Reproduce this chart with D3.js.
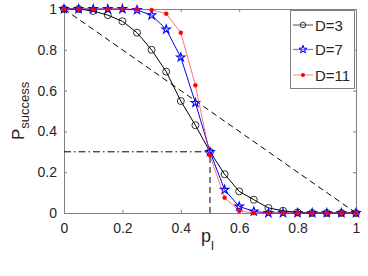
<!DOCTYPE html>
<html><head><meta charset="utf-8">
<script src="https://cdn.jsdelivr.net/npm/d3@7"></script>
<style>body{margin:0;background:#fff}svg{display:block}text{font-family:"Liberation Sans",Arial,sans-serif;fill:#262626}</style>
</head><body><svg id="c" width="368" height="276"></svg>
<script>
const pl = [0,0.05,0.1,0.15,0.2,0.25,0.3,0.35,0.4,0.45,0.5,0.55,0.6,0.65,0.7,0.75,0.8,0.85,0.9,0.95,1];
const d3vals = [1,1,0.99,0.97,0.94,0.884,0.80,0.693,0.549,0.43,0.30,0.19,0.106,0.065,0.025,0.011,0.003,0,0,0,0];
const d7vals = [1,1,1,1,1,0.995,0.97,0.90,0.763,0.54,0.30,0.114,0.032,0.008,0,0,0,0,0,0,0];
const d11vals = [1,1,1,1,1,1,0.995,0.977,0.884,0.626,0.282,0.075,0.01,0,0,0,0,0,0,0,0];
const seriesNames = ["D=3","D=7","D=11"];
const xTicks = [0,0.2,0.4,0.6,0.8,1];
const yTicks = [0,0.2,0.4,0.6,0.8,1];
const refX = [0,1], refY = [1,0];
const thresholdP = 0.5, thresholdS = 0.3;

const svg = d3.select("#c");
const L=64,R=356,T=9,B=213;
const x = d3.scaleLinear().domain([0,1]).range([L,R]);
const y = d3.scaleLinear().domain([0,1]).range([B,T]);
const axisCol="#808080";

const gx = svg.append("g").attr("transform",`translate(0,${B})`).call(d3.axisBottom(x).tickValues(xTicks).tickSizeInner(-3).tickSizeOuter(0).tickPadding(10).tickFormat(d3.format("")));
const gy = svg.append("g").attr("transform",`translate(${L},0)`).call(d3.axisLeft(y).tickValues(yTicks).tickSizeInner(-3).tickSizeOuter(0).tickPadding(7).tickFormat(d3.format("")));
const gxt = svg.append("g").attr("transform",`translate(0,${T})`).call(d3.axisTop(x).tickValues(xTicks).tickSizeInner(-3).tickSizeOuter(0).tickFormat(""));
const gyr = svg.append("g").attr("transform",`translate(${R},0)`).call(d3.axisRight(y).tickValues(yTicks).tickSizeInner(-3).tickSizeOuter(0).tickFormat(""));
[gx,gy,gxt,gyr].forEach(g=>{g.selectAll("path,line").attr("stroke",axisCol).attr("stroke-width",1);});
gx.selectAll("text").attr("font-size",14).style("fill","#262626");
gy.selectAll("text").attr("font-size",14).style("fill","#262626");

svg.append("path").attr("d",d3.line().x((d,i)=>x(refX[i])).y((d,i)=>y(refY[i]))(refX))
  .attr("stroke","#000").attr("stroke-width",1).attr("stroke-dasharray","6,4").attr("fill","none");
svg.append("line").attr("x1",x(0)).attr("x2",x(thresholdP)).attr("y1",y(thresholdS)).attr("y2",y(thresholdS))
  .attr("stroke","#000").attr("stroke-dasharray","7,3,1.5,3");
svg.append("line").attr("x1",x(thresholdP)).attr("x2",x(thresholdP)).attr("y1",y(0)).attr("y2",y(thresholdS))
  .attr("stroke","#000").attr("stroke-dasharray","6,4");

const line = d3.line().x((d,i)=>x(pl[i])).y(d=>y(d));
const star = d3.symbol().type(d3.symbolStar).size(22);

svg.append("path").attr("d",line(d3vals)).attr("fill","none").attr("stroke","#000").attr("stroke-width",1);
svg.selectAll(".c3").data(d3vals).join("circle").attr("cx",(d,i)=>x(pl[i])).attr("cy",d=>y(d)).attr("r",3.5)
  .attr("fill","none").attr("stroke","#000").attr("stroke-width",0.8);
svg.append("path").attr("d",line(d7vals)).attr("fill","none").attr("stroke","#0000ff").attr("stroke-width",1);
svg.selectAll(".s7").data(d7vals).join("path").attr("d",star).attr("transform",(d,i)=>`translate(${x(pl[i])},${y(d)})`)
  .attr("fill","none").attr("stroke","#0000ff").attr("stroke-width",1.1);
svg.append("path").attr("d",line(d11vals)).attr("fill","none").attr("stroke","#ff3030").attr("stroke-width",0.8).attr("stroke-opacity",0.85);
svg.selectAll(".d11").data(d11vals).join("circle").attr("cx",(d,i)=>x(pl[i])).attr("cy",d=>y(d)).attr("r",2)
  .attr("fill","#ff0000").attr("stroke","#ff0000").attr("stroke-width",0.5);

const yl = svg.append("text").attr("transform","translate(24,140) rotate(-90)").attr("font-size",17);
yl.append("tspan").text("P");
yl.append("tspan").attr("dy",5).attr("font-size",13).text("success");
const xl = svg.append("text").attr("x",201).attr("y",242).attr("font-size",18);
xl.append("tspan").text("p");
xl.append("tspan").attr("dy",8).attr("font-size",13).text("l");

const lg = svg.append("g");
lg.append("rect").attr("x",290.5).attr("y",10.5).attr("width",64).attr("height",78).attr("fill","#fff").attr("stroke",axisCol);
const rows=[25,49.5,75];
const lcols=["#7a7a7a","#7a7aff","#ffa0a0"];
seriesNames.forEach((n,i)=>{
  lg.append("line").attr("x1",293).attr("x2",313).attr("y1",rows[i]).attr("y2",rows[i]).attr("stroke",lcols[i]).attr("stroke-width",1.3);
  if(i===0) lg.append("circle").attr("cx",303).attr("cy",rows[i]).attr("r",2.8).attr("fill","none").attr("stroke","#333");
  if(i===1) lg.append("path").attr("d",d3.symbol().type(d3.symbolStar).size(20)).attr("transform",`translate(303,${rows[i]})`).attr("fill","none").attr("stroke","#0000ff");
  if(i===2) lg.append("circle").attr("cx",303).attr("cy",rows[i]).attr("r",2).attr("fill","#ff0000");
  lg.append("text").attr("x",315).attr("y",rows[i]+5.5).attr("font-size",15).text(n);
});
</script></body></html>
